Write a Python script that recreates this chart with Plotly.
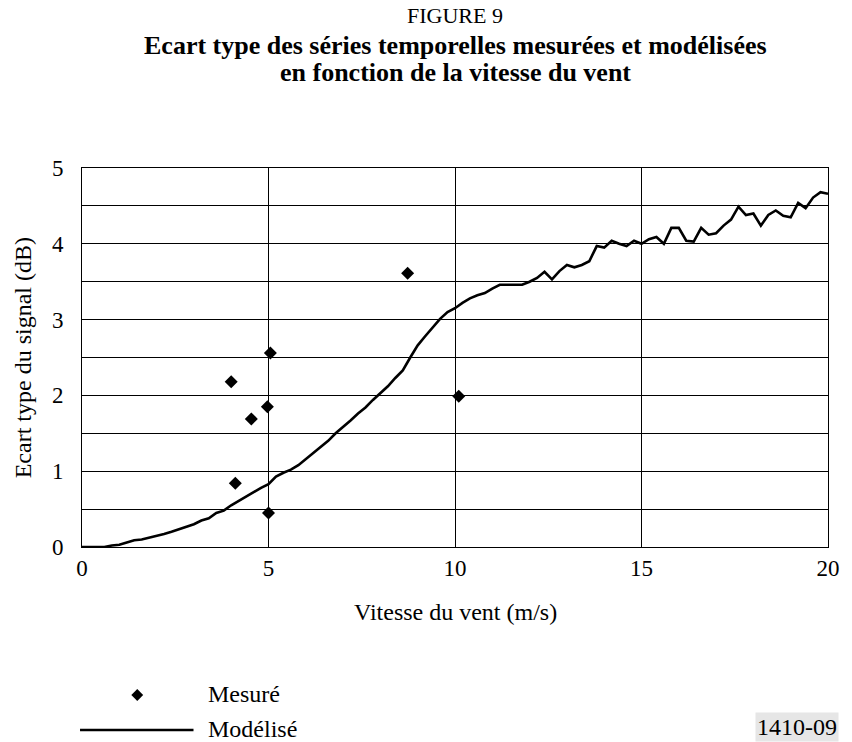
import plotly.graph_objects as go

# ---- data ----
wind_speed = [round(i * 0.2, 1) for i in range(101)]
modelled_sd = [
    0.00, 0.00, 0.00, 0.00, 0.02, 0.03, 0.06, 0.09, 0.10, 0.12,
    0.14, 0.17, 0.20, 0.23, 0.26, 0.30, 0.35, 0.38, 0.45, 0.48,
    0.55, 0.61, 0.66, 0.72, 0.78, 0.83, 0.93, 0.98, 1.02, 1.08,
    1.16, 1.25, 1.33, 1.40, 1.50, 1.58, 1.67, 1.76, 1.84, 1.94,
    2.03, 2.12, 2.23, 2.33, 2.50, 2.66, 2.78, 2.90, 3.01, 3.10,
    3.15, 3.22, 3.28, 3.32, 3.35, 3.41, 3.46, 3.46, 3.46, 3.46,
    3.50, 3.55, 3.63, 3.53, 3.64, 3.72, 3.69, 3.72, 3.77, 3.97,
    3.95, 4.04, 4.00, 3.97, 4.04, 4.00, 4.06, 4.09, 4.00, 4.21,
    4.21, 4.04, 4.03, 4.21, 4.12, 4.14, 4.24, 4.32, 4.49, 4.38,
    4.40, 4.24, 4.38, 4.44, 4.37, 4.35, 4.54, 4.47, 4.61, 4.68,
    4.66,
]
measured_speed = [4.0, 5.05, 4.97, 4.54, 4.11, 5.0, 8.73, 10.1]
measured_sd = [2.18, 2.56, 1.85, 1.69, 0.84, 0.45, 3.61, 1.99]

x_ticks = [0, 5, 10, 15, 20]
y_ticks = [0, 1, 2, 3, 4, 5]

title_top = "FIGURE 9"
title_l1 = "Ecart type des séries temporelles mesurées et modélisées"
title_l2 = "en fonction de la vitesse du vent"
x_title = "Vitesse du vent (m/s)"
y_title = "Ecart type du signal (dB)"
legend_names = ["Mesuré", "Modélisé"]
fig_code = "1410-09"

FONT = "Liberation Serif, Times New Roman, serif"

fig = go.Figure()
fig.add_trace(go.Scatter(x=wind_speed, y=modelled_sd, mode="lines",
                         line=dict(color="black", width=2.6),
                         name=legend_names[1], showlegend=False))
fig.add_trace(go.Scatter(x=measured_speed, y=measured_sd, mode="markers",
                         marker=dict(symbol="diamond", size=10, color="black"),
                         name=legend_names[0], showlegend=False))

# plot area in pixels: x 82..838, y 168..547
L, R, T, B = 82, 838, 168, 547
W, H = 852, 742
def px(X):
    return (X - L) / (R - L)
def py(Y):
    return (B - Y) / (B - T)

def text(t, X, Y, size, xanchor="center", angle=0, **kw):
    return dict(text=t, x=px(X), y=py(Y), xref="paper", yref="paper",
                xanchor=xanchor, yanchor="middle", textangle=angle, showarrow=False,
                font=dict(family=FONT, size=size, color="black"), **kw)

ann = [
    text(title_top, 460, 16, 22),
    text("<b>" + title_l1 + "</b>", 460, 46, 26),
    text("<b>" + title_l2 + "</b>", 460, 72, 26),
    text(x_title, 460, 612, 24),
    text(y_title, 22, (T + B) / 2, 24, angle=-90),
    text(legend_names[0], 208, 694, 24, xanchor="left"),
    text(legend_names[1], 208, 729, 24, xanchor="left"),
    text(fig_code, 849, 727, 24, xanchor="right", bgcolor="#e6e6e6", borderpad=1),
]

shapes = [
    dict(type="line", xref="paper", yref="paper", x0=px(80), x1=px(195), y0=py(730), y1=py(730),
         line=dict(color="black", width=2.6)),
    dict(type="path", xref="paper", yref="paper",
         path="M {a},{b} L {c},{d} L {a},{e} L {f},{d} Z".format(
             a=px(138), b=py(689), c=px(144), d=py(695), e=py(701), f=px(132)),
         fillcolor="black", line=dict(color="black", width=0)),
]

fig.update_layout(
    width=W, height=H,
    margin=dict(l=L, r=W - R, t=T, b=H - B),
    paper_bgcolor="white", plot_bgcolor="white",
    annotations=ann, shapes=shapes, showlegend=False,
    font=dict(family=FONT, color="black"),
)
fig.update_xaxes(range=[0, 20], tickvals=x_ticks, ticktext=[str(v) for v in x_ticks],
                 showgrid=True, gridcolor="black", gridwidth=1,
                 showline=True, linecolor="black", linewidth=1, mirror=True,
                 zeroline=False, ticks="", ticklabelstandoff=0,
                 tickfont=dict(family=FONT, size=23, color="black"))
fig.update_yaxes(range=[0, 5], tickvals=y_ticks, ticktext=[str(v) for v in y_ticks],
                 showgrid=True, gridcolor="black", gridwidth=1,
                 minor=dict(dtick=0.5, showgrid=True, gridcolor="black", gridwidth=1, ticks=""),
                 showline=True, linecolor="black", linewidth=1, mirror=True,
                 zeroline=False, ticks="", ticklabelstandoff=13,
                 tickfont=dict(family=FONT, size=23, color="black"))

fig.write_html("out.html", config={"displayModeBar": False},
               post_script="document.body.style.margin='0px';")
